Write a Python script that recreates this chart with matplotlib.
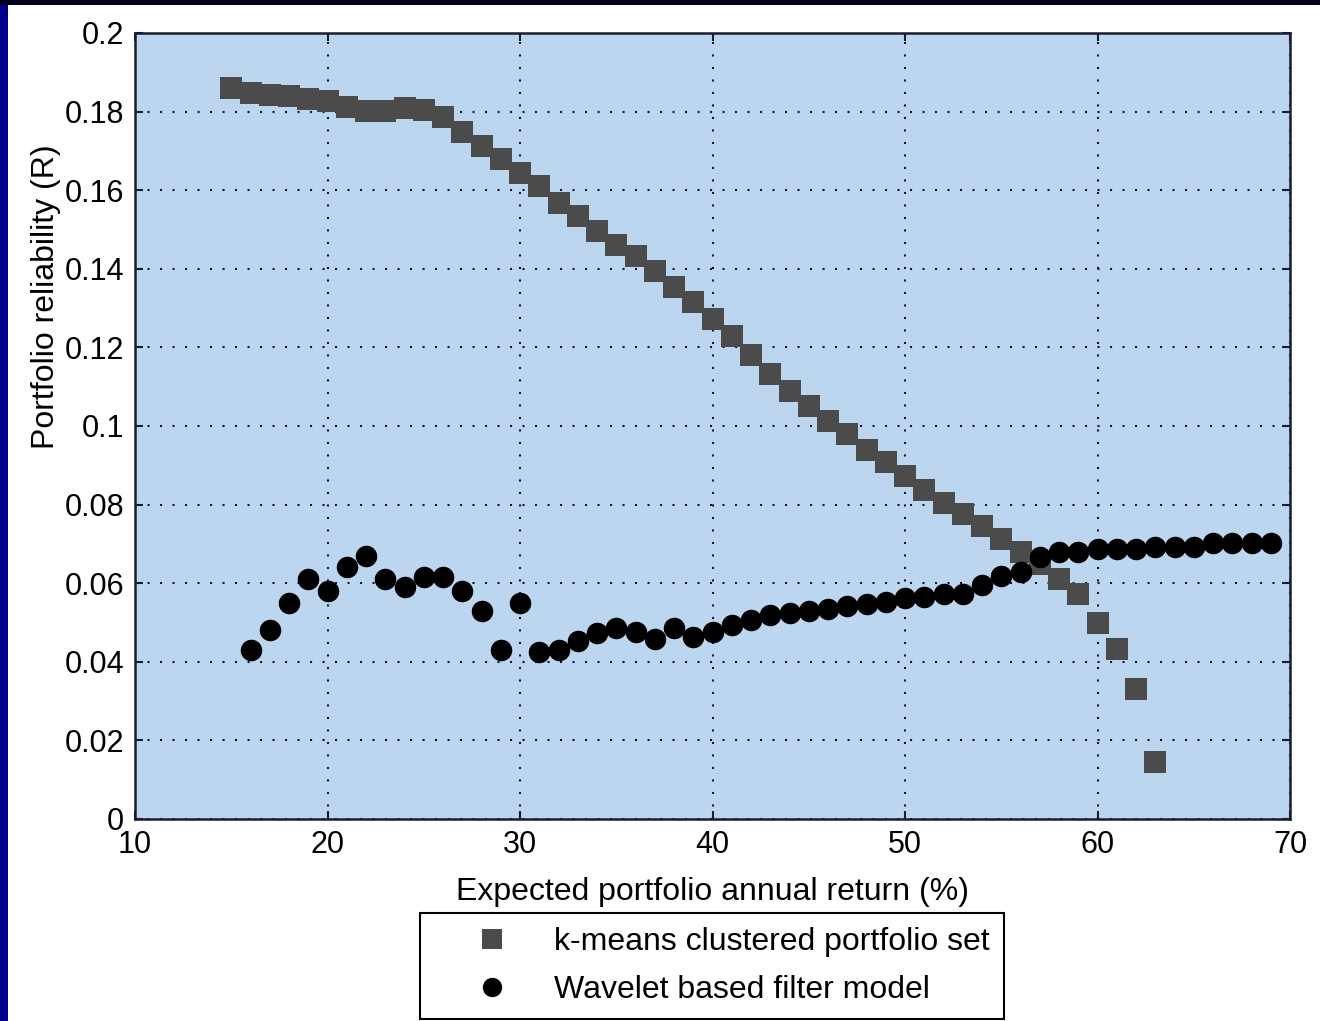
import matplotlib
matplotlib.use('Agg')
import matplotlib.pyplot as plt
from matplotlib.patches import Rectangle

# k-means clustered portfolio set (squares)
KM_RET = list(range(15, 64))
KM_REL = [0.186, 0.1847, 0.1842, 0.184, 0.1832, 0.1826, 0.1812, 0.1802, 0.1802, 0.1808,
          0.1803, 0.1786, 0.1748, 0.1712, 0.168, 0.1645, 0.161, 0.1567, 0.1534, 0.1496,
          0.146, 0.1433, 0.1394, 0.1354, 0.1316, 0.1272, 0.1229, 0.118, 0.1132, 0.109,
          0.105, 0.1013, 0.098, 0.094, 0.0908, 0.0873, 0.0837, 0.0804, 0.0775, 0.0745,
          0.0713, 0.068, 0.065, 0.061, 0.0572, 0.050, 0.0432, 0.033, 0.0145]

# Wavelet based filter model (circles)
WV_RET = list(range(16, 70))
WV_REL = [0.043, 0.048, 0.055, 0.061, 0.058, 0.064, 0.067, 0.061, 0.059, 0.0615,
          0.0615, 0.058, 0.053, 0.043, 0.055, 0.0425, 0.043, 0.0452, 0.0473, 0.0486,
          0.0476, 0.0458, 0.0486, 0.0464, 0.0476, 0.0494, 0.0506, 0.0519, 0.0524, 0.053,
          0.0534, 0.0542, 0.0547, 0.0552, 0.0562, 0.0565, 0.0572, 0.0572, 0.0595, 0.0618,
          0.0628, 0.0667, 0.068, 0.068, 0.0687, 0.0687, 0.0687, 0.0692, 0.0692, 0.0692,
          0.0702, 0.0702, 0.0702, 0.0702]

XTICKS = [10, 20, 30, 40, 50, 60, 70]
YTICKS = [0, 0.02, 0.04, 0.06, 0.08, 0.1, 0.12, 0.14, 0.16, 0.18, 0.2]
YTICKLABELS = ['0', '0.02', '0.04', '0.06', '0.08', '0.1', '0.12', '0.14', '0.16', '0.18', '0.2']
LABELS = ['k-means clustered portfolio set', 'Wavelet based filter model']

plt.rcParams['font.family'] = ['Liberation Sans', 'DejaVu Sans']

W, H = 1320, 1021
fig = plt.figure(figsize=(W / 100, H / 100), dpi=100, facecolor='#00008c')
# white slide area inside the navy frame
fig.patches.append(Rectangle((8 / W, 0), 1 - 8 / W, 1 - 5 / H, transform=fig.transFigure,
                             facecolor='white', edgecolor='none', zorder=-2))
fig.patches.append(Rectangle((0, 1 - 5 / H), 1, 5 / H, transform=fig.transFigure,
                             facecolor='#00001e', edgecolor='none', zorder=-2))

ax = fig.add_axes([135 / W, 1 - 819 / H, (1290 - 135) / W, (819 - 33) / H])
ax.set_facecolor('#bdd6f0')

ax.plot(KM_RET, KM_REL, 's', color='#4b4b4b', ms=15.5, mew=0, label=LABELS[0])
ax.plot(WV_RET, WV_REL, 'o', color='black', ms=15.5, mew=0, label=LABELS[1])

ax.set_xlim(10, 70); ax.set_ylim(0, 0.2)
ax.set_xticks(XTICKS)
ax.set_yticks(YTICKS); ax.set_yticklabels(YTICKLABELS)
ax.tick_params(direction='in', length=6, width=1.5, top=True, right=True,
               labelsize=22, pad=8, color='#1c1c30')
ax.grid(True, color='#14143a', linestyle=(0, (1, 5)), linewidth=1.5)
ax.set_axisbelow(True)
for s in ax.spines.values():
    s.set_color('#1c1c30'); s.set_linewidth(1.8)

ax.set_xlabel('Expected portfolio annual return (%)', fontsize=23)
ax.xaxis.set_label_coords(0.5, -0.074)
ax.set_ylabel('Portfolio reliability (R)', fontsize=23)
ax.yaxis.set_label_coords(-0.064, 0.664)

leg = fig.legend(loc='upper center', bbox_to_anchor=(712 / W, 1 - 913 / H), fontsize=23,
                 frameon=True, fancybox=False, framealpha=1, edgecolor='black',
                 borderaxespad=0, borderpad=0.45, handlelength=3.6, handletextpad=0.15,
                 labelspacing=0.55, markerscale=0.9)
leg.get_frame().set_linewidth(1.5)

fig.savefig('out.png', dpi=100, facecolor=fig.get_facecolor())
